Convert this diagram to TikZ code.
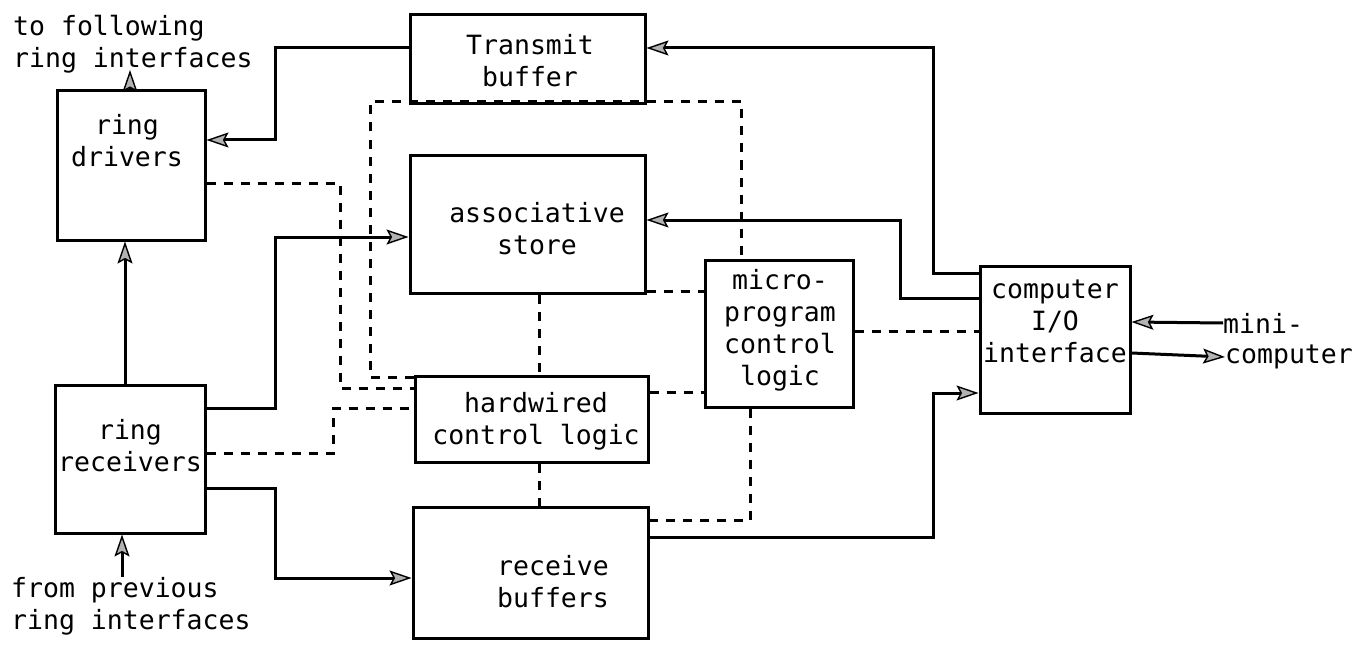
\documentclass[tikz,border=0pt]{standalone}
\usepackage{fontspec}
\newfontfamily\plotfont{DejaVu Sans Mono}
\usetikzlibrary{arrows.meta}
\begin{document}
\begin{tikzpicture}[x=1pt,y=-1pt,
  box/.style 2 args={draw,line width=3pt,inner sep=0pt,minimum width=#1,minimum height=#2},
  lbl/.style={font=\plotfont\fontsize{26.5}{32}\selectfont, align=center, inner sep=0pt},
  arr/.style={line width=3pt, -{Stealth[length=22pt,width=15pt,inset=4pt,fill=gray!60,line width=1.4pt]}},
  dsh/.style={line width=3pt, dash pattern=on 9pt off 8pt}]
\fill[white] (0,0) rectangle (1370,650);
\useasboundingbox (0,0) rectangle (1370,650);

% boxes
\node[box={235pt}{89pt}]  (tb) at (527.5,59.5) {};
\node[box={148pt}{149pt}] (rd) at (131,165.5) {};
\node[box={150pt}{148pt}] (rr) at (130,459) {};
\node[box={235pt}{138pt}] (as) at (527.5,224) {};
\node[box={233pt}{86pt}]  (hw) at (531.5,419) {};
\node[box={235pt}{131pt}] (rb) at (530.5,572.5) {};
\node[box={148pt}{147pt}] (mp) at (779,333.5) {};
\node[box={150pt}{147pt}] (ci) at (1055,339.5) {};

% labels
\node[lbl,align=left,anchor=west] (tf) at (13,44) {to following\\ring interfaces};
\node[lbl,align=left,anchor=west] (fp) at (11,606) {from previous\\ring interfaces};
\node[lbl] (tbl) at (530,61) {Transmit\\buffer};
\node[lbl] (rdl) at (127,141) {ring\\drivers};
\node[lbl] (asl) at (537,229) {associative\\store};
\node[lbl] (mpl) at (780,330) {micro-\\program\\control\\logic};
\node[lbl] (cil) at (1055,321) {computer\\I/O\\interface};
\node[lbl] (hwl) at (536,421) {hardwired\\control logic};
\node[lbl] (rbl) at (553,582) {receive\\buffers};
\node[lbl] (rrl) at (130,446) {ring\\receivers};
\node[lbl,anchor=west] (mc1) at (1223,323) {mini-};
\node[lbl,anchor=west] (mc2) at (1225,357) {computer};

% solid connectors
\draw[arr] (tb.west |- 0,48) -| (275,140) -- (rd.east |- 0,140);
\draw[arr] (ci.west |- 0,273) -| (933,48) -- (tb.east |- 0,48);
\draw[arr] (ci.west |- 0,298) -| (900,220) -- (as.east |- 0,220);
\draw[arr] (rr.east |- 0,408) -| (275,237) -- (as.west |- 0,237);
\draw[arr] (rr.east |- 0,488) -| (275,578) -- (rb.west |- 0,578);
\draw[arr] (rr.north -| 125,0) -- (rd.south -| 125,0);
\draw[arr] (rb.east |- 0,537) -| (933,393) -- (ci.west |- 0,393);
\draw[arr] (ci.east |- 0,353) -- (mc2.west);
\draw[arr] (mc1.west) -- (ci.east |- 0,322);
\draw[arr] (rd.north -| 130,0) -- (130,70);
\draw[arr] (fp.north -| 122,0) -- (rr.south -| 122,0);

% dashed connectors
\draw[dsh] (rd.east |- 0,183) -| (340,388) -- (hw.west |- 0,388);
\draw[dsh] (rr.east |- 0,453) -| (333,408) -- (hw.west |- 0,408);
\draw[dsh] (hw.west |- 0,377) -| (370,102) -| (mp.north -| 741,0);
\draw[dsh] (as.east |- 0,291) -- (mp.west |- 0,291);
\draw[dsh] (hw.east |- 0,392) -- (mp.west |- 0,392);
\draw[dsh] (as.south -| 539,0) -- (hw.north -| 539,0);
\draw[dsh] (hw.south -| 539,0) -- (rb.north -| 539,0);
\draw[dsh] (mp.south -| 750,0) |- (rb.east |- 0,520);
\draw[dsh] (mp.east |- 0,331) -- (ci.west |- 0,331);
\end{tikzpicture}
\end{document}
